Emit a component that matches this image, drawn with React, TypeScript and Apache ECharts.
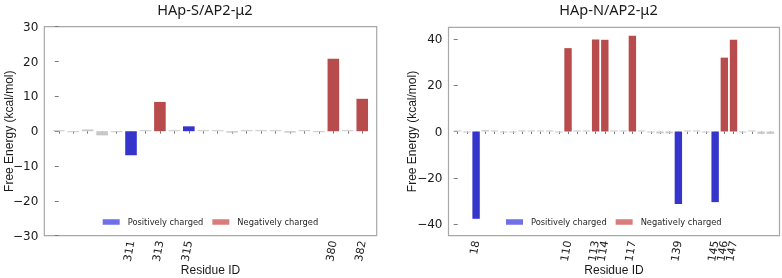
import React, { useEffect, useRef } from 'react';
import * as echarts from 'echarts';

// ---------- Data ----------
const leftTitle = 'HAp-S/AP2-μ2';
const rightTitle = 'HAp-N/AP2-μ2';

const leftResidues = ['', '', '', '', '', '311', '', '313', '', '315', '', '', '', '', '', '', '', '', '', '380', '', '382'];
const leftEnergy = [0.1, -0.2, 0.5, -1.2, -0.1, -6.9, 0.3, 8.4, 0.2, 1.4, 0.1, 0.2, -0.4, 0.3, 0.05, 0.1, -0.4, 0.05, -0.2, 20.8, 0, 9.3];
const leftCharge = ['none', 'none', 'none', 'none', 'none', 'pos', 'none', 'neg', 'none', 'pos', 'none', 'none', 'none', 'none', 'none', 'none', 'none', 'none', 'none', 'neg', 'none', 'neg'];

const rightResidues = ['', '', '18', '', '', '', '', '', '', '', '', '', '110', '', '', '113', '114', '', '', '117', '', '', '', '', '139', '', '', '', '145', '146', '147', '', '', '', ''];
const rightEnergy = [0.2, -0.4, -37.7, 0.6, 0.3, -0.3, -0.3, 0.3, 0.2, 0.4, 0.3, -0.4, 36.0, 0.2, 0.2, 39.7, 39.6, 0.3, 0.2, 41.4, 0, -0.3, -0.8, -0.8, -31.3, 0.4, 0, -0.3, -30.5, 31.9, 39.6, -0.4, 0, -1.0, -1.0];
const rightCharge = ['none', 'none', 'pos', 'none', 'none', 'none', 'none', 'none', 'none', 'none', 'none', 'none', 'neg', 'none', 'none', 'neg', 'neg', 'none', 'none', 'neg', 'none', 'none', 'none', 'none', 'pos', 'none', 'none', 'none', 'pos', 'neg', 'neg', 'none', 'none', 'none', 'none'];

const leftYTicks = [-30, -20, -10, 0, 10, 20, 30];
const rightYTicks = [-40, -20, 0, 20, 40];

const legendNames = ['Positively charged', 'Negatively charged'];

// ---------- Styles ----------
const barColors: Record<string, string> = { pos: '#3535cc', neg: '#b84c4c', none: '#c8c8c8' };
const legendColors = ['#4b4be2', '#d05b5b'];
const textColor = '#1a1a1a';
const spineColor = '#a8a8a8';
const tickColor = '#7a7a7a';

const minusFmt = (v: number) => String(v).replace('-', '\u2212');

function makeX(gridIndex: number, labels: string[], min: number, max: number) {
  const tickVals = labels.map((_, i) => i);
  const labelVals = labels.map((l, i) => (l ? i : -999)).filter((i) => i >= 0);
  return {
    gridIndex,
    type: 'value',
    min,
    max,
    splitLine: { show: false },
    axisLine: { show: false },
    axisTick: { show: true, customValues: tickVals, length: 2.5, lineStyle: { color: tickColor, width: 1 } },
    axisLabel: {
      // blank guard values at min/max so no real label is dropped by min/max overlap handling
      customValues: [min, ...labelVals, max],
      formatter: (v: number) => (v === min || v === max ? '' : labels[Math.round(v)] || ''),
      rotate: 80,
      margin: 5,
      hideOverlap: false,
      showMinLabel: false,
      showMaxLabel: false,
      fontSize: 11,
      fontFamily: 'DejaVu Sans',
      color: textColor,
    },
    name: 'Residue ID',
    nameLocation: 'middle',
    nameGap: 28,
    nameMoveOverlap: false,
    nameTextStyle: { fontFamily: 'Liberation Sans', fontSize: 12, color: textColor },
  };
}

function makeY(gridIndex: number, min: number, max: number, ticks: number[], nameGap: number) {
  return {
    gridIndex,
    type: 'value',
    min,
    max,
    splitLine: { show: false },
    axisLine: { show: false },
    axisTick: { show: true, customValues: ticks, length: 4, lineStyle: { color: tickColor, width: 1 } },
    axisLabel: {
      customValues: ticks,
      formatter: minusFmt,
      margin: 6,
      fontSize: 12,
      fontFamily: 'DejaVu Sans',
      color: textColor,
    },
    name: 'Free Energy (kcal/mol)',
    nameLocation: 'middle',
    nameGap,
    nameMoveOverlap: false,
    nameTextStyle: { fontFamily: 'Liberation Sans', fontSize: 12, color: textColor },
  };
}

function makeBars(idx: number, energy: number[], charge: string[], width: number) {
  return {
    type: 'bar',
    xAxisIndex: idx,
    yAxisIndex: idx,
    barWidth: width,
    barMinHeight: 1,
    silent: true,
    data: energy.map((v, i) => ({ value: [i, v], itemStyle: { color: barColors[charge[i]] } })),
  };
}

function makeLegend(left: number) {
  return {
    left,
    top: 218,
    padding: 0,
    orient: 'horizontal',
    icon: 'rect',
    itemWidth: 17,
    itemHeight: 5.5,
    itemGap: 9,
    selectedMode: false,
    textStyle: { fontFamily: 'DejaVu Sans', fontSize: 8.3, color: '#262626', padding: [0, 0, 0, 3] },
    data: legendNames,
  };
}

export default function App() {
  const ref = useRef<HTMLDivElement>(null);
  useEffect(() => {
    if (!ref.current) return;
    const chart = echarts.init(ref.current, undefined, { renderer: 'svg' });
    const titleStyle = { fontFamily: 'Noto Sans', fontSize: 14.5, fontWeight: 'normal', color: textColor };
    chart.setOption({
      animation: false,
      title: [
        { text: leftTitle, left: 205, top: 1, textAlign: 'center', padding: 0, textStyle: titleStyle },
        { text: rightTitle, left: 608.5, top: 1, textAlign: 'center', padding: 0, textStyle: titleStyle },
      ],
      legend: [makeLegend(102.7), makeLegend(506)],
      grid: [
        { left: 44.3, top: 26.7, width: 332.4, height: 209, outerBoundsMode: 'none', containLabel: false, show: true, borderColor: spineColor, borderWidth: 1.2, backgroundColor: 'transparent' },
        { left: 448.5, top: 27.3, width: 331, height: 208.4, outerBoundsMode: 'none', containLabel: false, show: true, borderColor: spineColor, borderWidth: 1.2, backgroundColor: 'transparent' },
      ],
      xAxis: [makeX(0, leftResidues, -1, 22), makeX(1, rightResidues, -1, 35)],
      yAxis: [makeY(0, -30, 30, leftYTicks, 29.5), makeY(1, -45, 45, rightYTicks, 31)],
      series: [
        makeBars(0, leftEnergy, leftCharge, 11.6),
        makeBars(1, rightEnergy, rightCharge, 7.4),
        { name: legendNames[0], type: 'scatter', xAxisIndex: 0, yAxisIndex: 0, data: [], itemStyle: { color: legendColors[0] } },
        { name: legendNames[1], type: 'scatter', xAxisIndex: 0, yAxisIndex: 0, data: [], itemStyle: { color: legendColors[1] } },
      ],
    });
    return () => chart.dispose();
  }, []);
  return <div ref={ref} style={{ position: 'fixed', left: 0, top: 0, width: 782, height: 278 }} />;
}
